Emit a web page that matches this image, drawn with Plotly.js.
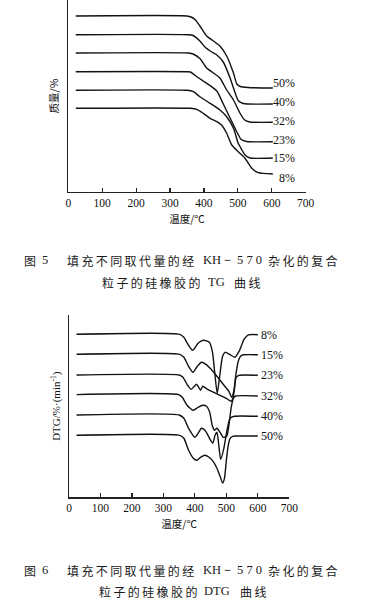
<!DOCTYPE html>
<html>
<head>
<meta charset="utf-8">
<script src="https://cdn.plot.ly/plotly-3.0.1.min.js"></script>
<style>
html,body{margin:0;padding:0;background:#fff;}
#chart{width:387px;height:606px;}
</style>
</head>
<body>
<div id="chart"></div>
<script>
// ---------- Fig.5 TG data (temperature °C, relative mass, arbitrary offset units) ----------
const tgLabels = ["50%", "40%", "32%", "23%", "15%", "8%"];
const tg50T = [22, 350, 362, 375, 388, 408, 428, 447, 467, 487, 497, 507, 530, 603];
const tg50M = [176, 176, 175, 172, 166, 156, 151, 146, 136, 119, 108, 105.5, 104.5, 104];
const tg40T = [22, 355, 368, 388, 403, 423, 438, 457, 477, 492, 502, 516, 603];
const tg40M = [157.3, 157.3, 156.5, 151, 145, 140, 137, 130, 114, 99, 91, 88.5, 88];
const tg32T = [22, 355, 368, 388, 408, 428, 447, 467, 487, 506, 520, 535, 603];
const tg32M = [139, 139, 138, 133.5, 124, 119, 114, 102, 92, 79, 72, 70, 69.7];
const tg23T = [22, 350, 360, 379, 398, 418, 438, 457, 477, 497, 510, 526, 603];
const tg23M = [120.3, 120.3, 120, 115.3, 111, 106.5, 101, 88, 74, 60, 52.5, 50.5, 50.3];
const tg15T = [22, 350, 369, 388, 418, 447, 467, 487, 501, 512, 521, 536, 603];
const tg15M = [101.7, 101.7, 100.3, 95.3, 88.7, 82, 75.3, 63.7, 48.7, 42, 37, 34, 34];
const tg8T = [22, 360, 379, 398, 418, 438, 452, 467, 482, 501, 521, 541, 560, 603];
const tg8M = [83.7, 83.7, 82.7, 78.7, 73.7, 70.3, 67, 58.7, 47, 40.3, 33.7, 23.7, 19.3, 18];

// ---------- Fig.6 DTG data (temperature °C, DTG, arbitrary offset units) ----------
const dtgLabels = ["8%", "15%", "23%", "32%", "40%", "50%"];
const dtg8T = [24, 352, 365, 376, 393, 410, 427, 446, 456, 463, 471, 478, 488, 496, 510, 527, 542, 556, 570, 600];
const dtg8V = [163, 163, 160, 154, 147, 154, 157, 155, 145, 125, 104, 119, 141, 145, 143, 140, 147, 158, 162.5, 162.5];
const dtg15T = [24, 352, 365, 380, 394, 408, 421, 435, 450, 465, 480, 495, 508, 517, 524, 530, 537, 545, 555, 600];
const dtg15V = [143, 143, 140, 131, 125, 131, 135, 133, 128.5, 123, 117, 111, 106, 100, 107, 122, 135, 141, 142.5, 142.5];
const dtg23T = [24, 350, 362, 375, 388, 398, 405, 412, 418, 425, 440, 460, 480, 500, 515, 521, 526, 531, 540, 600];
const dtg23V = [122.3, 122.3, 120, 113, 108, 111, 113, 110, 107, 111, 108, 105, 102, 99, 96, 99, 109, 120, 122, 122];
const dtg32T = [24, 348, 360, 375, 395, 410, 425, 437, 447, 455, 462, 470, 480, 490, 501, 508, 515, 522, 530, 600];
const dtg32V = [102.7, 102.7, 100, 92, 87, 90, 92, 91, 85, 72, 67, 69, 65, 60, 61, 72, 89, 99, 101.3, 101.3];
const dtg40T = [24, 350, 365, 380, 400, 412, 421, 432, 440, 450, 457, 464, 470, 476, 482, 492, 502, 512, 525, 600];
const dtg40V = [82.3, 82.3, 79, 69, 60, 65, 69, 67, 63, 57, 54, 62, 65, 52, 38, 49, 67, 79, 81, 81];
const dtg50T = [24, 352, 365, 380, 395, 406, 418, 432, 445, 460, 470, 480, 488, 494, 500, 506, 512, 520, 530, 600];
const dtg50V = [62, 62, 59, 47, 39, 37, 40, 42, 40, 35, 29, 21, 14.3, 19, 37, 52, 59, 61, 61.3, 61.3];

const xTicks = [0, 100, 200, 300, 400, 500, 600, 700];

const tgSeries = [[tg50T, tg50M], [tg40T, tg40M], [tg32T, tg32M], [tg23T, tg23M], [tg15T, tg15M], [tg8T, tg8M]];
const dtgSeries = [[dtg8T, dtg8V], [dtg15T, dtg15V], [dtg23T, dtg23V], [dtg32T, dtg32V], [dtg40T, dtg40V], [dtg50T, dtg50V]];

const lineStyle = {color: '#111', width: 1.4, shape: 'spline', smoothing: 0.6};
const traces = [];
tgSeries.forEach((s, i) => traces.push({x: s[0], y: s[1], mode: 'lines', line: lineStyle, xaxis: 'x', yaxis: 'y', name: tgLabels[i], hoverinfo: 'skip'}));
dtgSeries.forEach((s, i) => traces.push({x: s[0], y: s[1], mode: 'lines', line: lineStyle, xaxis: 'x2', yaxis: 'y2', name: dtgLabels[i], hoverinfo: 'skip'}));

const serif = 'Liberation Serif, DejaVu Serif, serif';
const cjk = 'Noto Sans CJK SC, sans-serif';
const tgShift = [5, 2, 1, 2, 0, -4];
const annotations = [];
tgSeries.forEach((s, i) => annotations.push({
  x: 675, y: s[1][s[1].length - 1], xref: 'x', yref: 'y', xanchor: 'right', yanchor: 'middle',
  yshift: tgShift[i], text: tgLabels[i], showarrow: false, font: {family: serif, size: 12, color: '#111'}
}));
dtgSeries.forEach((s, i) => annotations.push({
  x: 604, y: s[1][s[1].length - 1], xref: 'x2', yref: 'y2', xanchor: 'left', yanchor: 'middle',
  text: dtgLabels[i], showarrow: false, font: {family: serif, size: 12, color: '#111'}
}));

// caption pieces: text, left px, centre y px
const TH = '\u2009';
function spaced(s) { return s.split('').join(TH); }
function seg(text, leftPx, yPx, fam, size) {
  annotations.push({x: leftPx / 387, y: 1 - yPx / 606, xref: 'paper', yref: 'paper', xanchor: 'left', yanchor: 'middle',
    text: text, showarrow: false, font: {family: fam || cjk, size: size || 12, color: '#1a1a1a'}});
}
function captionLine1(num, yPx) {
  seg('图', 22, yPx);
  seg(num, 39.5, yPx, serif, 12.5);
  seg(spaced('填充不同取代量的经'), 65, yPx);
  seg('KH－', 201.5, yPx, serif, 12.5);
  seg('5 7 0', 235, yPx, serif, 12.5);
  seg(spaced('杂化的复合'), 266, yPx);
}
captionLine1('5', 260);
seg(spaced('粒子的硅橡胶的'), 100, 282);
seg('TG', 206, 282, serif, 12.5);
seg(spaced('曲线'), 232, 282);
captionLine1('6', 570);
seg(spaced('粒子的硅橡胶的'), 97, 591);
seg('DTG', 202, 591, serif, 12.5);
seg(spaced('曲线'), 238, 591);

const axBase = {showgrid: false, zeroline: false, showline: true, linecolor: '#222', linewidth: 1.3};
const xBase = Object.assign({}, axBase, {
  range: [0, 700], tickmode: 'array', tickvals: xTicks, ticktext: xTicks.map(String),
  ticks: 'inside', ticklen: 4, tickcolor: '#222', tickwidth: 1.2,
  tickfont: {family: serif, size: 11.5, color: '#111'}
});
const yBase = Object.assign({}, axBase, {showticklabels: false, ticks: ''});

const layout = {
  width: 387, height: 606,
  margin: {l: 0, r: 0, t: 0, b: 0},
  paper_bgcolor: '#fff', plot_bgcolor: '#fff',
  showlegend: false,
  xaxis: Object.assign({}, xBase, {domain: [68.3 / 387, 305.7 / 387], anchor: 'y',
    title: {text: '温度/℃', font: {family: cjk, size: 10.5, color: '#111'}, standoff: 7}}),
  yaxis: Object.assign({}, yBase, {domain: [(606 - 192) / 606, 1], range: [0, 192], anchor: 'x',
    title: {text: '质量/%', font: {family: cjk, size: 10.5, color: '#111'}, standoff: 6}}),
  xaxis2: Object.assign({}, xBase, {domain: [69 / 387, 289.3 / 387], anchor: 'y2',
    title: {text: '温度/℃', font: {family: cjk, size: 10.5, color: '#111'}, standoff: 7}}),
  yaxis2: Object.assign({}, yBase, {domain: [(606 - 497.3) / 606, (606 - 315) / 606], range: [0, 182.3], anchor: 'x2',
    title: {text: 'DTG/%·(min<sup>-1</sup>)', font: {family: serif, size: 11, color: '#111'}, standoff: 4}}),
  annotations: annotations
};

Plotly.newPlot('chart', traces, layout, {staticPlot: true, displayModeBar: false});
</script>
</body>
</html>
